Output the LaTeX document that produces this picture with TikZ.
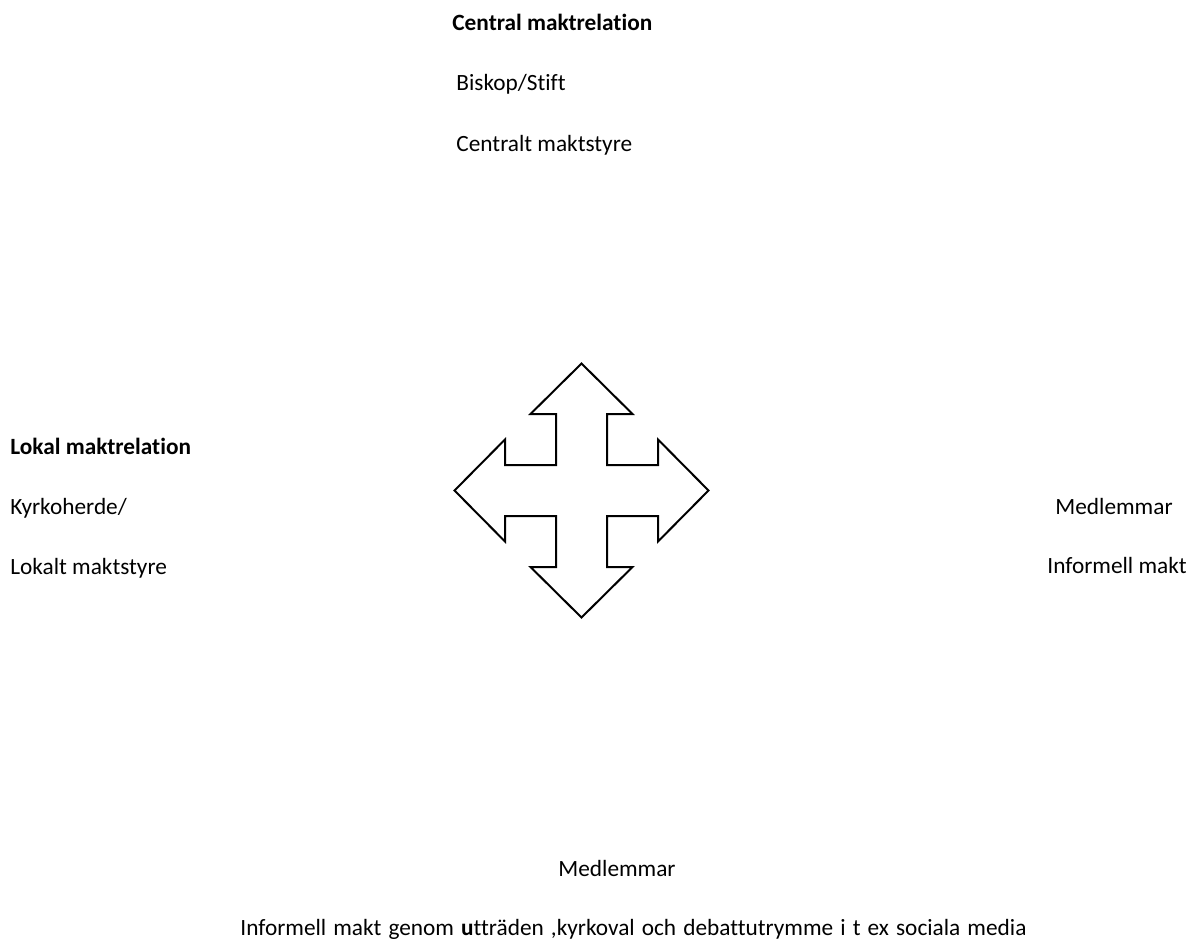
\documentclass[tikz,border=0pt]{standalone}
\usepackage{fontspec}
\setmainfont{Carlito}[Ligatures={TeX,NoCommon}]
\begin{document}
\begin{tikzpicture}[x=0.5pt,y=-0.5pt,
            txt/.style={inner sep=0pt, anchor=base west, font=\fontsize{11.65pt}{14pt}\selectfont},
            headtxt/.style={txt, font=\fontsize{11.65pt}{14pt}\selectfont\bfseries},
            cross/.style={draw=black, line width=1pt, line join=miter, fill=white},
        ]
            \useasboundingbox (0,0) rectangle (1193,941);
            % central
            \node[headtxt](central) at (452,31) {Central maktrelation};
            \node[txt](biskop) at (456,91) {Biskop/Stift};
            \node[txt](centralt) at (456,152) {Centralt maktstyre};
            % lokal
            \node[headtxt](lokal) at (10,454) {Lokal maktrelation};
            \node[txt](kyrkoherde) at (10,514) {Kyrkoherde/};
            \node[txt](lokalt) at (10,574) {Lokalt maktstyre};
            % medlemmar
            \node[txt](medlemright) at (1055,514) {Medlemmar};
            \node[txt](informellright) at (1047,573) {Informell makt};
            \node[txt](medlembottom) at (558,876) {Medlemmar};
            \node[txt](informellbottom) at (240,935) {\spaceskip=3.55pt Informell makt genom \textbf{u}tträden ,kyrkoval och debattutrymme i t ex sociala media};
            % four-way arrow
            \begin{scope}[shift={(581.5,490.5)}]
                \draw[cross] (0,-127) -- (51,-76.5) -- (25.5,-76.5) -- (25.5,-25.5) -- (76.5,-25.5) -- (76.5,-51)
                    -- (127,0) -- (76.5,51) -- (76.5,25.5) -- (25.5,25.5) -- (25.5,76.5) -- (51,76.5)
                    -- (0,127) -- (-51,76.5) -- (-25.5,76.5) -- (-25.5,25.5) -- (-76.5,25.5) -- (-76.5,51)
                    -- (-127,0) -- (-76.5,-51) -- (-76.5,-25.5) -- (-25.5,-25.5) -- (-25.5,-76.5) -- (-51,-76.5) -- cycle;
            \end{scope}
        \end{tikzpicture}
\end{document}
